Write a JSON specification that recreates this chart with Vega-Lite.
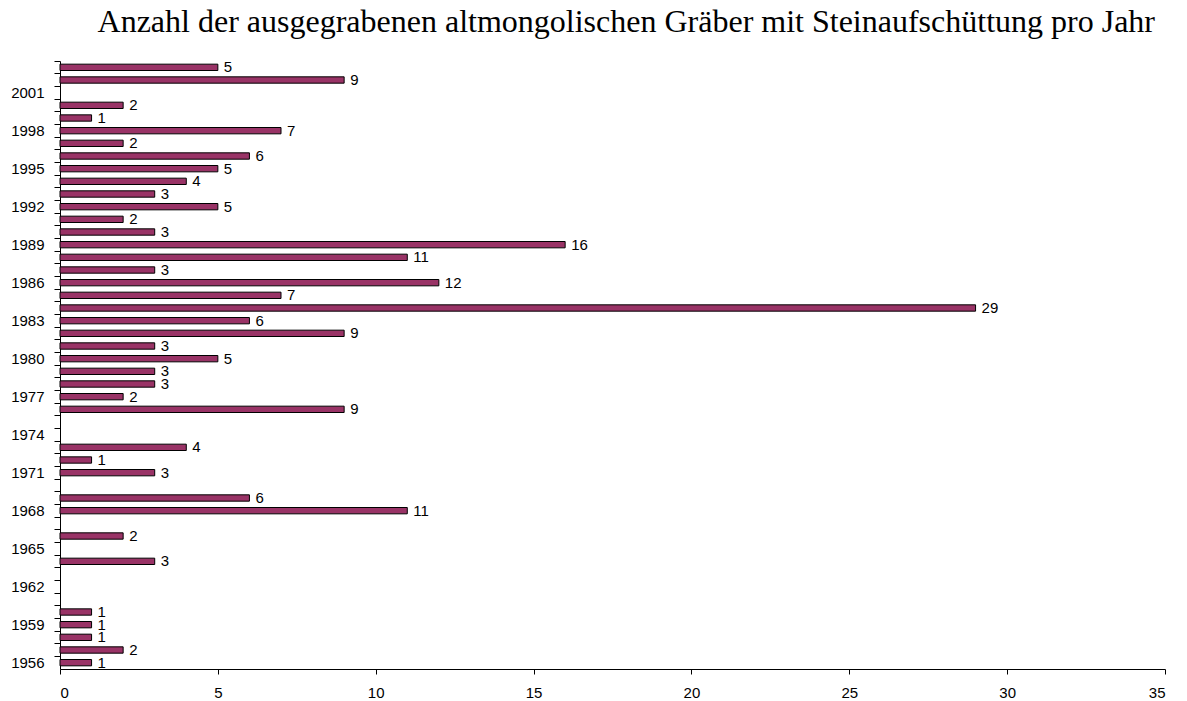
{
  "$schema": "https://vega.github.io/schema/vega-lite/v6.json",
  "width": 1105,
  "height": 608,
  "autosize": {"type": "none"},
  "padding": {"left": 60, "top": 61, "right": 22, "bottom": 32},
  "background": "white",
  "title": {
    "text": "Anzahl der ausgegrabenen altmongolischen Gräber mit Steinaufschüttung pro Jahr",
    "font": "Liberation Serif",
    "fontSize": 32,
    "fontWeight": "normal",
    "color": "black",
    "anchor": "end",
    "frame": "group",
    "baseline": "alphabetic",
    "offset": -4,
    "dx": -10
  },
  "config": {"view": {"stroke": null}},
  "data": {
    "values": [
      {"year": 1956, "count": 1},
      {"year": 1957, "count": 2},
      {"year": 1958, "count": 1},
      {"year": 1959, "count": 1},
      {"year": 1960, "count": 1},
      {"year": 1964, "count": 3},
      {"year": 1966, "count": 2},
      {"year": 1968, "count": 11},
      {"year": 1969, "count": 6},
      {"year": 1971, "count": 3},
      {"year": 1972, "count": 1},
      {"year": 1973, "count": 4},
      {"year": 1976, "count": 9},
      {"year": 1977, "count": 2},
      {"year": 1978, "count": 3},
      {"year": 1979, "count": 3},
      {"year": 1980, "count": 5},
      {"year": 1981, "count": 3},
      {"year": 1982, "count": 9},
      {"year": 1983, "count": 6},
      {"year": 1984, "count": 29},
      {"year": 1985, "count": 7},
      {"year": 1986, "count": 12},
      {"year": 1987, "count": 3},
      {"year": 1988, "count": 11},
      {"year": 1989, "count": 16},
      {"year": 1990, "count": 3},
      {"year": 1991, "count": 2},
      {"year": 1992, "count": 5},
      {"year": 1993, "count": 3},
      {"year": 1994, "count": 4},
      {"year": 1995, "count": 5},
      {"year": 1996, "count": 6},
      {"year": 1997, "count": 2},
      {"year": 1998, "count": 7},
      {"year": 1999, "count": 1},
      {"year": 2000, "count": 2},
      {"year": 2002, "count": 9},
      {"year": 2003, "count": 5}
    ]
  },
  "resolve": {"axis": {"y": "independent"}},
  "layer": [
    {
      "mark": {"type": "bar", "color": "#993366", "stroke": "black", "strokeWidth": 1, "height": {"band": 0.5}},
      "encoding": {
        "y": {
          "field": "year",
          "type": "ordinal",
          "scale": {
            "domain": [2003, 2002, 2001, 2000, 1999, 1998, 1997, 1996, 1995, 1994, 1993, 1992, 1991, 1990, 1989, 1988, 1987, 1986, 1985, 1984, 1983, 1982, 1981, 1980, 1979, 1978, 1977, 1976, 1975, 1974, 1973, 1972, 1971, 1970, 1969, 1968, 1967, 1966, 1965, 1964, 1963, 1962, 1961, 1960, 1959, 1958, 1957, 1956],
            "paddingInner": 0,
            "paddingOuter": 0
          },
          "axis": {
            "orient": "left",
            "values": [2001, 1998, 1995, 1992, 1989, 1986, 1983, 1980, 1977, 1974, 1971, 1968, 1965, 1962, 1959, 1956],
            "ticks": false,
            "tickSize": 0,
            "labelPadding": 16,
            "domain": true,
            "domainColor": "black",
            "domainWidth": 1,
            "labelFont": "Liberation Sans",
            "labelFontSize": 15,
            "labelColor": "black",
            "title": null,
            "grid": false
          }
        },
        "x": {
          "field": "count",
          "type": "quantitative",
          "scale": {"domain": [0, 35], "nice": false},
          "axis": {
            "values": [0, 5, 10, 15, 20, 25, 30, 35],
            "tickSize": 5,
            "tickColor": "black",
            "domainColor": "black",
            "labelPadding": 11,
            "labelFont": "Liberation Sans",
            "labelFontSize": 15,
            "labelColor": "black",
            "title": null,
            "grid": false
          }
        }
      }
    },
    {
      "mark": {"type": "text", "align": "left", "baseline": "middle", "dx": 6, "font": "Liberation Sans", "fontSize": 15, "color": "black"},
      "encoding": {
        "y": {
          "field": "year",
          "type": "ordinal",
          "axis": {
            "orient": "left",
            "bandPosition": 0,
            "labels": false,
            "ticks": true,
            "tickSize": 6,
            "tickColor": "black",
            "domain": false,
            "title": null,
            "grid": false
          }
        },
        "x": {
          "field": "count",
          "type": "quantitative",
          "axis": {
            "values": [0, 5, 10, 15, 20, 25, 30, 35],
            "tickSize": 5,
            "tickColor": "black",
            "domainColor": "black",
            "labelPadding": 11,
            "labelFont": "Liberation Sans",
            "labelFontSize": 15,
            "labelColor": "black",
            "title": null,
            "grid": false
          }
        },
        "text": {"field": "count", "type": "quantitative"}
      }
    }
  ]
}
